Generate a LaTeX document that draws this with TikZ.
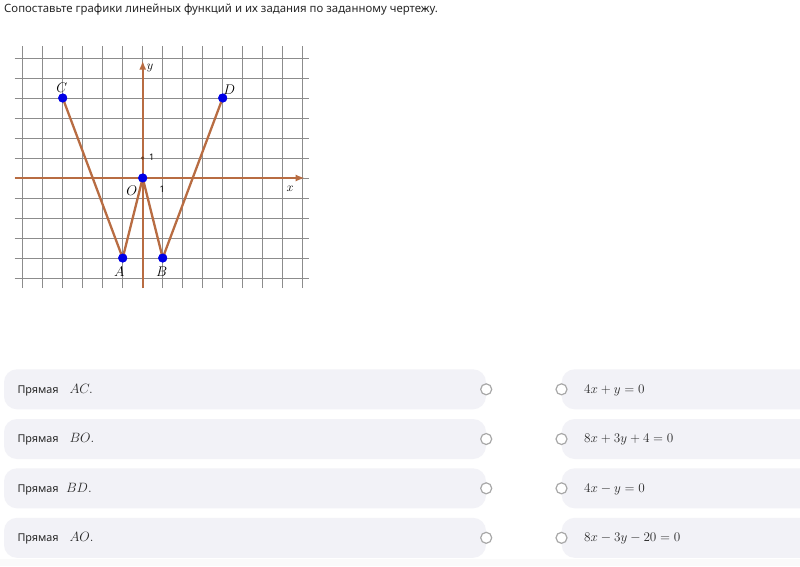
\RequirePackage{fix-cm}
\documentclass[tikz,border=0pt]{standalone}
\usepackage{fontspec}
\setmainfont{Noto Sans}
\usepackage{tikz}
\usetikzlibrary{positioning, arrows.meta}
\definecolor{graphbrown}{RGB}{184,108,66}
\definecolor{pointblue}{RGB}{0,0,230}
\definecolor{boxgray}{RGB}{242,242,247}
\definecolor{radiogray}{RGB}{168,168,168}
\definecolor{inkgray}{RGB}{40,40,40}
\tikzset{
gridline/.style={black!45, line width=0.9pt}, % thin lines of the squared paper
axis/.style={graphbrown, line width=2pt, -{Latex[length=9pt, width=7pt]}}, % both axes with their arrow heads
segment/.style={graphbrown, line width=2.3pt, line join=round}, % the broken line C-A-O-B-D
point/.style={circle, fill=pointblue, inner sep=0pt, minimum size=9pt}, % blue points on the graph
ptlabel/.style={inner sep=0pt, font=\fontsize{14}{16}\selectfont}, % names of the points
smalllabel/.style={inner sep=0pt, font=\fontsize{9}{10}\selectfont}, % the two unit marks
leftbox/.style={fill=boxgray, rounded corners=13pt, minimum width=482pt, minimum height=40pt, inner sep=0pt}, % boxes with the lines
rightbox/.style={fill=boxgray, rounded corners=13pt, minimum width=280pt, minimum height=40pt, inner sep=0pt}, % boxes with the equations
radio/.style={circle, draw=radiogray, line width=1.2pt, fill=white, minimum size=11pt, inner sep=0pt}, % round buttons
word/.style={inner sep=0pt, text=inkgray, font=\fontsize{10.8}{12}\selectfont}, % the word before each line
formula/.style={inner sep=0pt, text=inkgray, font=\fontsize{13.5}{15}\selectfont}, % math in the boxes
}

\begin{document}
\begin{tikzpicture}[x=1pt, y=-1pt]
    \fill[white] (0,0) rectangle (800,566);
    \useasboundingbox (0,0) rectangle (800,566);
    \fill[black!2] (0,559) rectangle (800,566);

    \node[anchor=base west, inner sep=0pt, text=inkgray, font=\fontsize{11.4}{13}\selectfont] (title) at (4,12.5)
        {Сопоставьте графики линейных функций и их задания по заданному чертежу.};

    % the graph, one square is 20px
    \begin{scope}[shift={(142.7,178)}, x=20pt, y=20pt]
        \draw[gridline, step=20pt] (-6.4,-5.5) grid (8.3,6.6);

        \coordinate (xstart) at (-6.4,0);
        \coordinate (xend) at (8.1,0);
        \coordinate (ystart) at (0,-5.5);
        \coordinate (yend) at (0,5.87);
        \draw[axis] (xstart) -- (xend);
        \draw[axis] (ystart) -- (yend);

        \node[ptlabel, font=\fontsize{12.5}{14}\selectfont] (xlab) at (7.37,-0.55) {$x$};
        \node[ptlabel, font=\fontsize{12.5}{14}\selectfont] (ylab) at (0.37,5.5) {$y$};
        \node[circle, fill=graphbrown!60!black, inner sep=0pt, minimum size=3.5pt] (tick) at (0,1) {};
        \node[smalllabel] (oney) at (0.45,1.05) {1};
        \node[smalllabel] (onex) at (0.98,-0.55) {1};

        \node[point] (O) at (0,0) {};
        \node[point] (A) at (-1,-4) {};
        \node[point] (B) at (1,-4) {};
        \node[point] (C) at (-4,4) {};
        \node[point] (D) at (4,4) {};

        \draw[segment] (C.center) -- (A.center) -- (O.center) -- (B.center) -- (D.center);
        \node[point] at (O) {};
        \node[point] at (A) {};
        \node[point] at (B) {};
        \node[point] at (C) {};
        \node[point] at (D) {};

        \node[ptlabel] (Clab) at (C) [xshift=-1pt, yshift=10.6pt] {$C$};
        \node[ptlabel] (Dlab) at (D) [xshift=6.6pt, yshift=8.3pt] {$D$};
        \node[ptlabel] (Alab) at (A) [xshift=-3.4pt, yshift=-14pt] {$A$};
        \node[ptlabel] (Blab) at (B) [xshift=-1pt, yshift=-14pt] {$B$};
        \node[ptlabel] (Olab) at (O) [xshift=-11pt, yshift=-12.7pt] {$O$};
    \end{scope}

    % the lines, on the left
    \node[leftbox] (rowAC) at (245,389.3) {};
    \node[leftbox] (rowBO) at (245,439) {};
    \node[leftbox] (rowBD) at (245,488.3) {};
    \node[leftbox] (rowAO) at (245,537.8) {};

    \node[word, anchor=base west] (wordAC) at (17.3,393) {Прямая};
    \node[word, anchor=base west] (wordBO) at (17.3,442.7) {Прямая};
    \node[word, anchor=base west] (wordBD) at (17.3,492) {Прямая};
    \node[word, anchor=base west] (wordAO) at (17.3,541.5) {Прямая};
    \node[formula, base right=10.5pt of wordAC] (mathAC) {$AC.$};
    \node[formula, base right=10.5pt of wordBO] (mathBO) {$BO.$};
    \node[formula, base right=7pt of wordBD] (mathBD) {$BD.$};
    \node[formula, base right=10.5pt of wordAO] (mathAO) {$AO.$};

    \node[radio] (radioAC) at (rowAC.east) {};
    \node[radio] (radioBO) at (rowBO.east) {};
    \node[radio] (radioBD) at (rowBD.east) {};
    \node[radio] (radioAO) at (rowAO.east) {};

    % the equations, on the right
    \node[rightbox] (eqone) at (701.7,389.3) {};
    \node[rightbox] (eqtwo) at (701.7,439) {};
    \node[rightbox] (eqthree) at (701.7,488.3) {};
    \node[rightbox] (eqfour) at (701.7,537.8) {};

    \node[radio] (radioone) at (eqone.west) {};
    \node[radio] (radiotwo) at (eqtwo.west) {};
    \node[radio] (radiothree) at (eqthree.west) {};
    \node[radio] (radiofour) at (eqfour.west) {};

    \node[formula, font=\fontsize{13.2}{15}\selectfont, anchor=base west] (textone) at (584,393) {$4x+y=0$};
    \node[formula, font=\fontsize{13.2}{15}\selectfont, anchor=base west] (texttwo) at (584,442.7) {$8x+3y+4=0$};
    \node[formula, font=\fontsize{13.2}{15}\selectfont, anchor=base west] (textthree) at (584,492) {$4x-y=0$};
    \node[formula, font=\fontsize{13.2}{15}\selectfont, anchor=base west] (textfour) at (584,541.5) {$8x-3y-20=0$};
\end{tikzpicture}
\end{document}
